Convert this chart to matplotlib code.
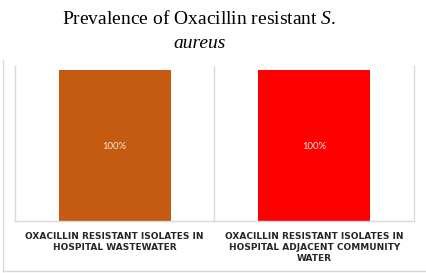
import matplotlib
matplotlib.use("Agg")
import matplotlib.pyplot as plt
from matplotlib.lines import Line2D

plt.rcParams["mathtext.fontset"] = "custom"
plt.rcParams["mathtext.rm"] = "Liberation Serif"
plt.rcParams["mathtext.it"] = "Liberation Serif:italic"

categories = ["OXACILLIN RESISTANT ISOLATES IN\nHOSPITAL WASTEWATER",
              "OXACILLIN RESISTANT ISOLATES IN\nHOSPITAL ADJACENT COMMUNITY\nWATER"]
values = [100, 100]
value_labels = ["100%", "100%"]
colors = ["#C55A11", "#FF0000"]

W, H = 426, 273
fig = plt.figure(figsize=(W / 100, H / 100), dpi=100)
fig.patch.set_facecolor("white")

ax = fig.add_axes([15 / W, 1 - 221 / H, (414 - 15) / W, (221 - 66) / H])
x = list(range(len(categories)))
bars = ax.bar(x, values, width=0.56, color=colors, zorder=2)
ax.set_xlim(-0.5, len(categories) - 0.5)
ax.set_ylim(0, 102.6)
ax.set_yticks([])
ax.set_xticks(x)
ax.set_xticklabels(categories, fontfamily="DejaVu Sans", fontweight="bold", fontsize=6.5,
                   color="#262626", linespacing=1.3)
ax.tick_params(axis="x", length=0, pad=8)
ax.spines["top"].set_visible(False)
for s in ["left", "right", "bottom"]:
    ax.spines[s].set_color("#D9D9D9")
    ax.spines[s].set_linewidth(1.0)
for b in range(1, len(categories)):
    ax.axvline(b - 0.5, color="#D9D9D9", lw=1.0, zorder=1)

for xi, v, lab in zip(x, values, value_labels):
    ax.text(xi, v * 0.49, lab, ha="center", va="center", fontsize=6.8,
            fontfamily="Lato", color="#F2E6DC", zorder=3)

# title
fig.text(199 / W, 1 - 19 / H, "Prevalence of Oxacillin resistant $\\mathit{S.}$",
         ha="center", va="center", fontsize=14, fontfamily="Liberation Serif")
fig.text(200 / W, 1 - 44 / H, "aureus", ha="center", va="center", fontsize=14,
         fontfamily="Liberation Serif", style="italic")

# outer chart border (left and bottom visible in crop)
fig.add_artist(Line2D([3 / W, 3 / W], [1 - 60 / H, 1 - 271 / H], transform=fig.transFigure,
                      color="#D9D9D9", lw=1.0))
fig.add_artist(Line2D([3 / W, 1.0], [1 - 271 / H, 1 - 271 / H], transform=fig.transFigure,
                      color="#D9D9D9", lw=1.0))

fig.savefig("out.png", dpi=100)
